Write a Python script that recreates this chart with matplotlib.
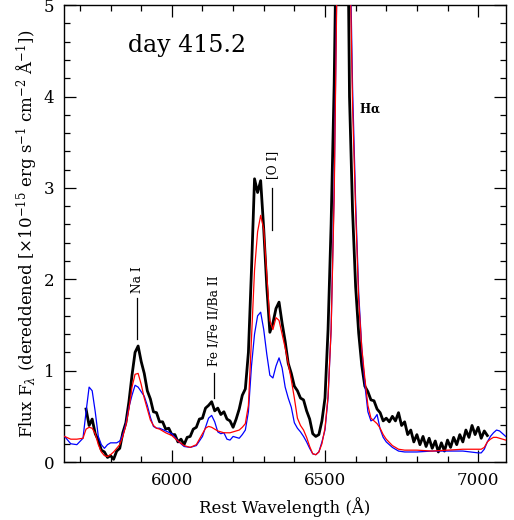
"""Day 415.2 spectrum of the supernova, dereddened, with two model spectra."""

import matplotlib

matplotlib.use("Agg")
import matplotlib.pyplot as plt
import numpy as np
from matplotlib.ticker import MultipleLocator

# observed spectrum, sampled every 10 A from 5720 to 7030 A
obs_start, obs_step = 5720, 10
obs_flux = [
    0.58, 0.40, 0.47, 0.31, 0.24, 0.13, 0.11, 0.05, 0.07, 0.03,
    0.12, 0.15, 0.32, 0.43, 0.66, 0.95, 1.20, 1.27, 1.10, 0.97,
    0.78, 0.69, 0.55, 0.54, 0.44, 0.44, 0.36, 0.37, 0.30, 0.30,
    0.22, 0.25, 0.19, 0.27, 0.28, 0.36, 0.38, 0.47, 0.48, 0.59,
    0.62, 0.66, 0.56, 0.59, 0.52, 0.55, 0.47, 0.45, 0.38, 0.47,
    0.58, 0.73, 0.80, 1.20, 2.10, 3.10, 2.95, 3.08, 2.55, 1.92,
    1.42, 1.52, 1.68, 1.75, 1.52, 1.32, 1.08, 0.97, 0.83, 0.78,
    0.70, 0.68, 0.56, 0.47, 0.31, 0.28, 0.30, 0.45, 0.70, 1.45,
    2.60, 4.14, 6.50, 8.50, 9.00, 7.50, 4.00, 2.75, 1.92, 1.41,
    1.06, 0.83, 0.77, 0.68, 0.67, 0.58, 0.54, 0.45, 0.48, 0.44,
    0.50, 0.45, 0.54, 0.40, 0.44, 0.30, 0.35, 0.22, 0.30, 0.19,
    0.28, 0.17, 0.26, 0.15, 0.23, 0.11, 0.21, 0.12, 0.24, 0.16,
    0.27, 0.19, 0.30, 0.22, 0.35, 0.27, 0.40, 0.30, 0.38, 0.26,
    0.34, 0.29,
]

model_wave = [
    5650, 5670, 5690, 5710, 5720, 5730, 5740, 5750, 5760, 5770,
    5780, 5790, 5800, 5810, 5820, 5830, 5840, 5850, 5860, 5870,
    5880, 5890, 5900, 5910, 5920, 5930, 5940, 5950, 5960, 5980,
    6000, 6020, 6040, 6060, 6080, 6100, 6110, 6120, 6130, 6140,
    6150, 6160, 6170, 6180, 6190, 6200, 6210, 6220, 6230, 6240,
    6250, 6260, 6270, 6280, 6290, 6300, 6310, 6320, 6330, 6340,
    6350, 6360, 6370, 6380, 6390, 6400, 6410, 6420, 6430, 6440,
    6450, 6460, 6470, 6480, 6490, 6500, 6510, 6520, 6530, 6540,
    6550, 6560, 6570, 6580, 6590, 6600, 6610, 6620, 6630, 6640,
    6650, 6660, 6670, 6680, 6690, 6700, 6720, 6740, 6760, 6800,
    6850, 6900, 6950, 7000, 7010, 7020, 7030, 7040, 7050, 7060,
    7070, 7090,
]
model_red = [
    0.28, 0.25, 0.25, 0.26, 0.36, 0.38, 0.37, 0.31, 0.19, 0.11,
    0.07, 0.06, 0.08, 0.11, 0.15, 0.19, 0.28, 0.40, 0.58, 0.82,
    0.96, 0.97, 0.85, 0.70, 0.58, 0.46, 0.40, 0.37, 0.36, 0.32,
    0.29, 0.23, 0.18, 0.16, 0.19, 0.31, 0.37, 0.39, 0.38, 0.36,
    0.34, 0.33, 0.32, 0.32, 0.32, 0.33, 0.34, 0.35, 0.38, 0.42,
    0.62, 1.35, 2.10, 2.52, 2.70, 2.55, 2.05, 1.55, 1.45, 1.58,
    1.55, 1.40, 1.25, 1.08, 0.90, 0.70, 0.48, 0.40, 0.35, 0.27,
    0.17, 0.09, 0.08, 0.11, 0.20, 0.37, 0.72, 1.45, 2.90, 5.50,
    8.00, 9.00, 8.00, 5.80, 3.90, 2.75, 1.77, 1.25, 0.92, 0.62,
    0.48, 0.45, 0.42, 0.37, 0.30, 0.25, 0.18, 0.14, 0.13, 0.13,
    0.12, 0.13, 0.14, 0.14, 0.14, 0.16, 0.22, 0.25, 0.27, 0.27,
    0.26, 0.24,
]
model_blue = [
    0.28, 0.20, 0.19, 0.26, 0.55, 0.82, 0.78, 0.55, 0.28, 0.19,
    0.15, 0.19, 0.21, 0.21, 0.21, 0.23, 0.30, 0.42, 0.60, 0.73,
    0.84, 0.82, 0.77, 0.72, 0.62, 0.49, 0.39, 0.37, 0.37, 0.34,
    0.31, 0.23, 0.17, 0.16, 0.18, 0.28, 0.38, 0.48, 0.51, 0.44,
    0.33, 0.31, 0.32, 0.25, 0.24, 0.28, 0.27, 0.26, 0.30, 0.35,
    0.55, 1.05, 1.40, 1.60, 1.64, 1.45, 1.18, 0.95, 0.92, 1.05,
    1.14, 1.03, 0.82, 0.70, 0.60, 0.43, 0.37, 0.33, 0.28, 0.22,
    0.15, 0.09, 0.08, 0.11, 0.22, 0.35, 0.70, 1.45, 3.00, 5.60,
    8.00, 9.00, 8.10, 6.00, 4.10, 2.85, 1.85, 1.25, 0.85, 0.55,
    0.45, 0.47, 0.52, 0.36, 0.27, 0.22, 0.16, 0.12, 0.11, 0.11,
    0.12, 0.12, 0.12, 0.10, 0.10, 0.14, 0.22, 0.28, 0.32, 0.35,
    0.34, 0.28,
]

# line identifications: (label, wavelength, text centre flux, bar bottom, bar top)
line_ids = [
    ("Na I", 5887, 2.00, 1.35, 1.79),
    ("Fe I/Fe II/Ba II", 6138, 1.55, 0.70, 0.97),
    ("[O I]", 6328, 3.25, 2.54, 3.00),
]

plt.rcParams["font.family"] = "DejaVu Serif"
plt.rcParams["mathtext.fontset"] = "dejavuserif"

obs_wave = obs_start + obs_step * np.arange(len(obs_flux))
assert len(model_wave) == len(model_red) == len(model_blue)

fig = plt.figure(figsize=(5.14, 5.20), dpi=100)
ax = fig.add_axes([0.1245, 0.1115, 0.86, 0.8785])

ax.plot(obs_wave, obs_flux, color="black", lw=2.0, zorder=2)
ax.plot(model_wave, model_blue, color="#0000ff", lw=0.9, zorder=3)
ax.plot(model_wave, model_red, color="#ff0000", lw=0.9, zorder=4)

for label, wave, ytext, ylo, yhi in line_ids:
    ax.plot([wave, wave], [ylo, yhi], color="black", lw=0.9)
    ax.text(wave, ytext, label, rotation=90, ha="center", va="center", fontsize=8.8)
ax.text(6612, 3.87, r"H$\mathbf{\alpha}$", ha="left", va="center", fontsize=8.5, fontweight="bold")
ax.text(6050, 4.56, "day 415.2", ha="center", va="center", fontsize=17)

ax.set_xlim(5648, 7091)
ax.set_ylim(0, 5)
ax.xaxis.set_major_locator(MultipleLocator(500))
ax.xaxis.set_minor_locator(MultipleLocator(100))
ax.yaxis.set_major_locator(MultipleLocator(1))
ax.yaxis.set_minor_locator(MultipleLocator(0.2))
ax.tick_params(which="both", direction="in", top=True, right=True, labelsize=12, width=0.9)
ax.tick_params(which="major", length=8.5, pad=7)
ax.tick_params(which="minor", length=4.3)
for spine in ax.spines.values():
    spine.set_linewidth(1.0)

ax.set_xlabel("Rest Wavelength (Å)", fontsize=12, labelpad=6)
ax.set_ylabel(
    r"Flux F$_\lambda$ (dereddened [$\times$10$^{-15}$ erg s$^{-1}$ cm$^{-2}$ Å$^{-1}$])",
    fontsize=12, labelpad=3,
)

fig.savefig("out.png", dpi=100)
